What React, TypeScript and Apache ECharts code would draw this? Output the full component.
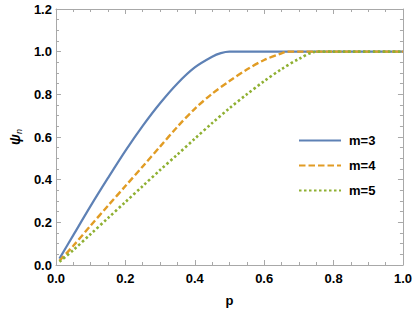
import React, { useEffect, useRef } from "react";
import * as echarts from "echarts";

const seriesNames = ["m=3", "m=4", "m=5"];
const p3 = [0.01, 0.05, 0.1, 0.15, 0.2, 0.25, 0.3, 0.35, 0.4, 0.45, 0.475, 0.5, 0.6, 0.7, 0.8, 0.9, 1.0];
const psi3 = [0.03, 0.14, 0.277, 0.408, 0.535, 0.652, 0.758, 0.851, 0.926, 0.976, 0.993, 1.0, 1.0, 1.0, 1.0, 1.0, 1.0];
const p4 = [0.01, 0.05, 0.1, 0.15, 0.2, 0.25, 0.3, 0.35, 0.4, 0.45, 0.5, 0.55, 0.6, 0.65, 0.667, 0.7, 0.8, 0.9, 1.0];
const psi4 = [0.02, 0.09, 0.185, 0.278, 0.37, 0.462, 0.555, 0.648, 0.732, 0.803, 0.862, 0.916, 0.961, 0.992, 1.0, 1.0, 1.0, 1.0, 1.0];
const p5 = [0.01, 0.05, 0.1, 0.15, 0.2, 0.25, 0.3, 0.35, 0.4, 0.45, 0.5, 0.55, 0.6, 0.65, 0.7, 0.75, 0.8, 0.9, 1.0];
const psi5 = [0.015, 0.07, 0.145, 0.22, 0.295, 0.37, 0.445, 0.518, 0.592, 0.665, 0.735, 0.8, 0.862, 0.918, 0.966, 1.0, 1.0, 1.0, 1.0];
const xTicks = [0, 0.2, 0.4, 0.6, 0.8, 1.0];
const yTicks = [0, 0.2, 0.4, 0.6, 0.8, 1.0, 1.2];

const zip = (a: number[], b: number[]) => a.map((x, i) => [x, b[i]]);

export default function App() {
  const ref = useRef<HTMLDivElement>(null);
  useEffect(() => {
    const chart = echarts.init(ref.current!, null, { renderer: "svg" });
    const frame = "#a8a8a8";
    const font = "'Liberation Sans', Arial, sans-serif";
    const commonAxis = (showLabel: boolean) => ({
      type: "value" as const,
      min: 0,
      interval: 0.2,
      splitNumber: 5,
      axisLine: { show: true, onZero: false, lineStyle: { color: frame, width: 1 } },
      axisTick: { show: true, inside: true, length: 5, lineStyle: { color: frame } },
      minorTick: { show: true, splitNumber: 4, length: 3, lineStyle: { color: frame } },
      splitLine: { show: false },
      axisLabel: {
        show: showLabel,
        color: "#000",
        fontWeight: "bold" as const,
        fontSize: 13,
        fontFamily: font,
        formatter: (v: number) => v.toFixed(1),
      },
    });
    const lineCommon = {
      type: "line" as const,
      smooth: 0.3,
      showSymbol: false,
      symbol: "none",
    };
    chart.setOption({
      animation: false,
      grid: { left: 47, right: 12, top: 9, bottom: 44 },
      legend: {
        orient: "vertical",
        left: 293,
        top: 129,
        itemWidth: 42,
        itemHeight: 14,
        itemGap: 12,
        itemStyle: { opacity: 0 },
        textStyle: { color: "#000", fontWeight: "bold", fontSize: 13, fontFamily: font, padding: [0, 0, 0, 3] },
        data: seriesNames,
      },
      xAxis: [
        {
          ...commonAxis(true),
          max: 1,
          position: "bottom",
          name: "p",
          nameLocation: "middle",
          nameGap: 29,
          nameTextStyle: { color: "#000", fontWeight: "bold", fontSize: 13, fontFamily: font },
          axisLabel: { ...commonAxis(true).axisLabel, margin: 7, customValues: xTicks },
        },
        { ...commonAxis(false), max: 1, position: "top" },
      ],
      yAxis: [
        {
          ...commonAxis(true),
          max: 1.2,
          position: "left",
          name: "{a|ψ}{b|n}",
          nameLocation: "middle",
          nameRotate: 90,
          nameGap: 31,
          nameTextStyle: {
            rich: {
              a: { fontStyle: "italic", fontWeight: "bold", fontSize: 14, color: "#000", fontFamily: font, lineHeight: 16 },
              b: { fontStyle: "italic", fontSize: 9, color: "#000", fontFamily: font, lineHeight: 16, verticalAlign: "bottom", padding: [6, 0, 0, 0] },
            },
          },
          axisLabel: { ...commonAxis(true).axisLabel, margin: 4, customValues: yTicks },
        },
        { ...commonAxis(false), max: 1.2, position: "right" },
      ],
      series: [
        {
          ...lineCommon,
          name: seriesNames[0],
          data: zip(p3, psi3),
          lineStyle: { color: "#5E81B5", width: 2.2, type: "solid" },
          itemStyle: { color: "#5E81B5" },
        },
        {
          ...lineCommon,
          name: seriesNames[1],
          data: zip(p4, psi4),
          lineStyle: { color: "#E19C24", width: 2.4, type: [6.5, 3] },
          itemStyle: { color: "#E19C24" },
        },
        {
          ...lineCommon,
          name: seriesNames[2],
          data: zip(p5, psi5),
          lineStyle: { color: "#8FB032", width: 2.6, type: [2.5, 2.5] },
          itemStyle: { color: "#8FB032" },
        },
      ],
    });
    return () => chart.dispose();
  }, []);
  return <div ref={ref} style={{ width: 415, height: 312, position: "absolute", left: 0, top: 0 }} />;
}
